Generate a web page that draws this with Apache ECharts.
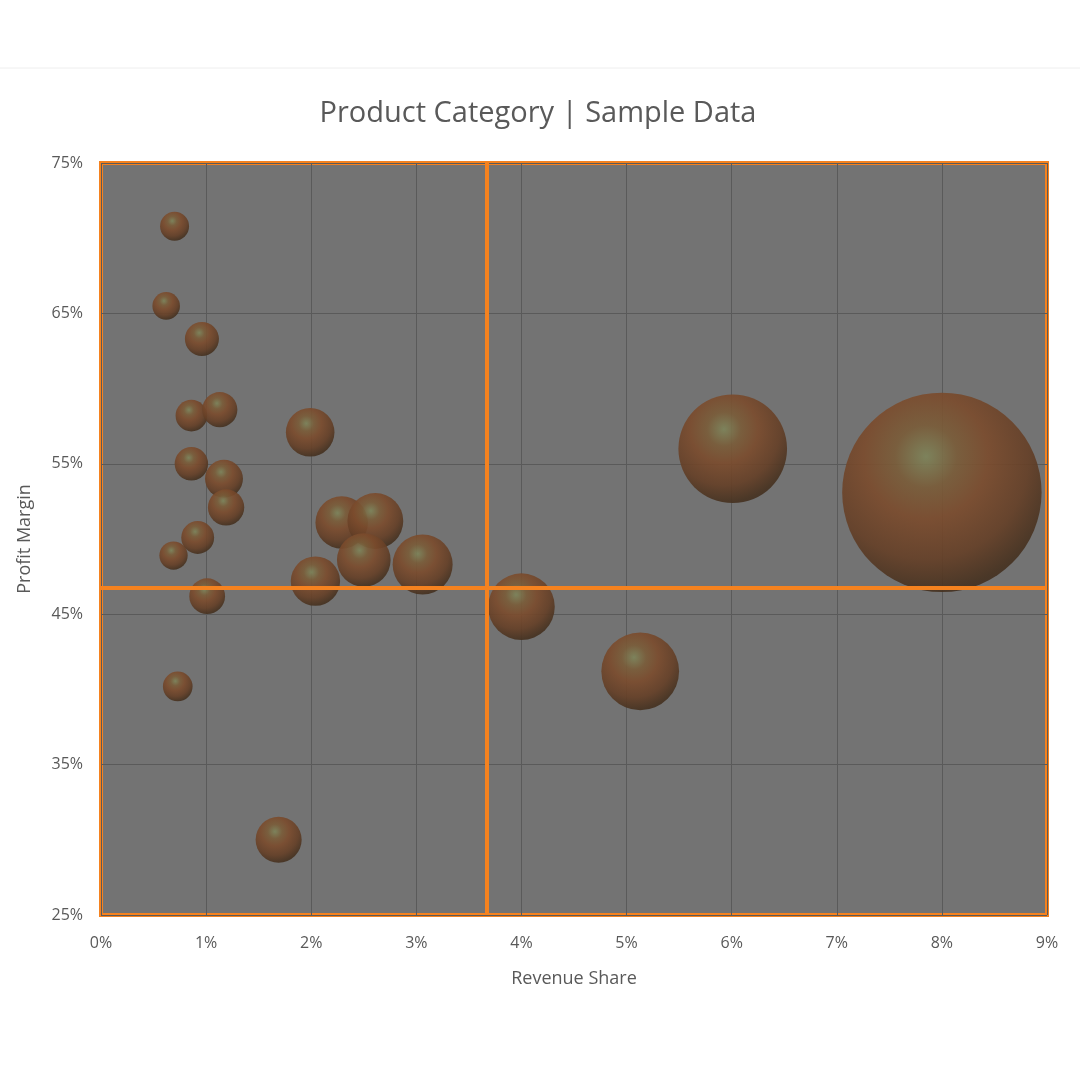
<!DOCTYPE html>
<html>
<head>
<meta charset="utf-8">
<script src="https://cdn.jsdelivr.net/npm/echarts@6/dist/echarts.min.js"></script>
<style>
  html, body { margin: 0; padding: 0; background: #fff; }
  #chart { width: 1080px; height: 1080px; }
</style>
</head>
<body>
<div id="chart"></div>
<script>
// revenue share (%), profit margin (%), bubble size (revenue, arbitrary units)
var revenueShare = [0.70, 0.62, 0.96, 0.86, 1.13, 1.99, 0.86, 1.17, 1.19, 0.92, 0.69, 1.01,
    0.73, 1.69, 2.04, 2.29, 2.61, 2.50, 3.06, 4.00, 5.13, 6.01, 8.00];
var profitMargin = [70.8, 65.5, 63.3, 58.2, 58.6, 57.1, 55.0, 54.0, 52.1, 50.1, 48.9, 46.2,
    40.2, 30.0, 47.2, 51.1, 51.2, 48.6, 48.3, 45.5, 41.2, 56.0, 53.1];
var bubbleSize = [21, 19, 29, 25, 31, 59, 28, 36, 33, 27, 20, 32,
    22, 53, 61, 69, 78, 72, 90, 111, 151, 295, 994];
var avgShare = 3.67;
var avgMargin = 46.76;
var xTicks = [0, 9, 1];
var yTicks = [25, 75, 10];

var orange = '#f5821f';
var textGrey = '#595959';
var font = 'Open Sans';

var points = revenueShare.map(function (x, i) {
    return [x, profitMargin[i], bubbleSize[i]];
});

var chart = echarts.init(document.getElementById('chart'));
var option = {
    backgroundColor: '#ffffff',
    animation: false,
    title: {
        text: 'Product Category | Sample Data',
        left: 533,
        top: 94,
        textAlign: 'center',
        textStyle: { color: textGrey, fontSize: 29, fontWeight: 'normal', fontFamily: font }
    },
    graphic: [{
        type: 'line',
        shape: { x1: 0, y1: 68, x2: 1080, y2: 68 },
        style: { stroke: '#eeeeee', lineWidth: 1 }
    }],
    grid: {
        left: 101, right: 33, top: 163, bottom: 165,
        show: true,
        backgroundColor: '#737373',
        borderColor: orange,
        borderWidth: 4
    },
    xAxis: {
        type: 'value',
        min: xTicks[0], max: xTicks[1], interval: xTicks[2],
        name: 'Revenue Share',
        nameLocation: 'middle',
        nameGap: 55,
        nameTextStyle: { color: textGrey, fontSize: 18, fontFamily: font },
        axisLine: { show: false },
        axisTick: { show: false },
        axisLabel: { formatter: '{value}%', color: textGrey, fontSize: 16, fontFamily: font, margin: 20 },
        splitLine: { lineStyle: { color: '#5a5a5a', width: 1 } }
    },
    yAxis: {
        type: 'value',
        min: yTicks[0], max: yTicks[1], interval: yTicks[2],
        name: 'Profit Margin',
        nameLocation: 'middle',
        nameGap: 67,
        nameTextStyle: { color: textGrey, fontSize: 18, fontFamily: font },
        axisLine: { show: false },
        axisTick: { show: false },
        axisLabel: { formatter: '{value}%', color: textGrey, fontSize: 16, fontFamily: font, margin: 18 },
        splitLine: { lineStyle: { color: '#5a5a5a', width: 1 } }
    },
    series: [{
        type: 'scatter',
        data: points,
        symbolSize: function (d) { return Math.sqrt(d[2] * 10) * 2; },
        itemStyle: {
            opacity: 0.9,
            color: {
                type: 'radial', x: 0.42, y: 0.32, r: 0.78,
                colorStops: [
                    { offset: 0, color: '#7e8459' },
                    { offset: 0.2, color: '#7a5c38' },
                    { offset: 0.4, color: '#7b4b2c' },
                    { offset: 0.66, color: '#653f26' },
                    { offset: 0.86, color: '#46311f' },
                    { offset: 1, color: '#3a2b20' }
                ]
            }
        },
        markLine: {
            silent: true,
            symbol: 'none',
            label: { show: false },
            lineStyle: { color: orange, width: 4, type: 'solid' },
            data: [{ xAxis: avgShare }, { yAxis: avgMargin }]
        }
    }]
};
chart.setOption(option);
</script>
</body>
</html>
